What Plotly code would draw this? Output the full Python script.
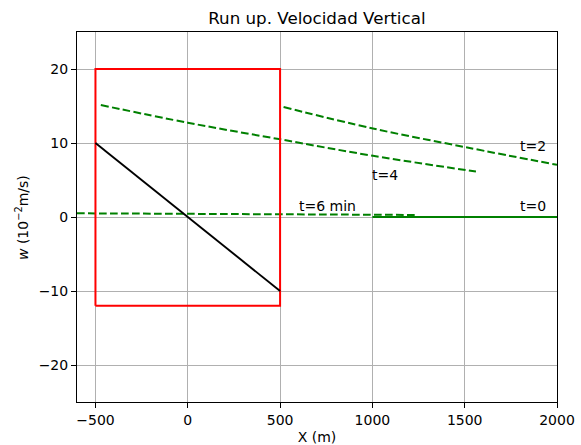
import plotly.graph_objects as go

# Data
box_x = [-500, -500, 500, 500, -500]
box_y = [-12, 20, 20, -12, -12]

profile_x = [-500, 500]
profile_y = [10, -10]

t4_x = [-471, 0, 493, 1003, 1561]
t4_y = [15.13, 12.74, 10.53, 8.27, 6.14]

t2_x = [519, 1003, 1503, 2000]
t2_y = [14.86, 11.96, 9.44, 7.05]

t6_x = [-600, 300, 1230]
t6_y = [0.5, 0.37, 0.28]

t0_x = [1000, 2000]
t0_y = [0, 0]

labels = ["t=2", "t=4", "t=6 min", "t=0"]
label_x = [1800, 1000, 600, 1800]
label_y = [9.6, 5.7, 1.5, 1.5]

x_ticks = [-500, 0, 500, 1000, 1500, 2000]
y_ticks = [-20, -10, 0, 10, 20]

GREEN = "#008000"
dash = "7.7px,3.3px"
FS = 14

fig = go.Figure()
fig.add_trace(go.Scatter(x=t6_x, y=t6_y, mode="lines",
                         line=dict(color=GREEN, width=2, dash=dash)))
fig.add_trace(go.Scatter(x=t0_x, y=t0_y, mode="lines",
                         line=dict(color=GREEN, width=2)))
fig.add_trace(go.Scatter(x=t4_x, y=t4_y, mode="lines", line_shape="spline",
                         line=dict(color=GREEN, width=2, dash=dash)))
fig.add_trace(go.Scatter(x=t2_x, y=t2_y, mode="lines", line_shape="spline",
                         line=dict(color=GREEN, width=2, dash=dash)))
fig.add_trace(go.Scatter(x=box_x, y=box_y, mode="lines",
                         line=dict(color="#ff0000", width=2)))
fig.add_trace(go.Scatter(x=profile_x, y=profile_y, mode="lines",
                         line=dict(color="black", width=1.9)))

for t, x, y in zip(labels, label_x, label_y):
    fig.add_annotation(x=x, y=y, text=t, showarrow=False, xanchor="left",
                       yanchor="middle", xshift=-2,
                       font=dict(size=FS, color="black"))

# y-axis label
fig.add_annotation(xref="paper", yref="paper", x=-0.1146, y=0.5,
                   text="<i>w</i> (10<sup>−2</sup>m/s)", textangle=-90,
                   showarrow=False, xanchor="center", yanchor="middle",
                   font=dict(size=FS, color="black"))

axis_common = dict(showline=True, linecolor="black", linewidth=1, mirror=True,
                   showgrid=True, gridcolor="#b0b0b0", gridwidth=1,
                   ticks="outside", ticklen=5, tickcolor="black", zeroline=False,
                   automargin=False,
                   tickfont=dict(size=FS, color="black"))

fig.update_xaxes(range=[-600, 2000], tickvals=x_ticks,
                 title=dict(text="X (m)", font=dict(size=FS, color="black")),
                 **axis_common)
fig.update_yaxes(range=[-25, 25], tickvals=y_ticks, **axis_common)

fig.update_layout(
    width=581, height=445,
    margin=dict(l=77, r=24, t=32, b=43),
    paper_bgcolor="white", plot_bgcolor="white",
    showlegend=False,
    font=dict(family="DejaVu Sans", color="black"),
    title=dict(text="Run up. Velocidad Vertical", x=0.5454, xanchor="center",
               y=0.96, yanchor="middle", font=dict(size=16.7, color="black")),
)

fig.write_html("out.html")
